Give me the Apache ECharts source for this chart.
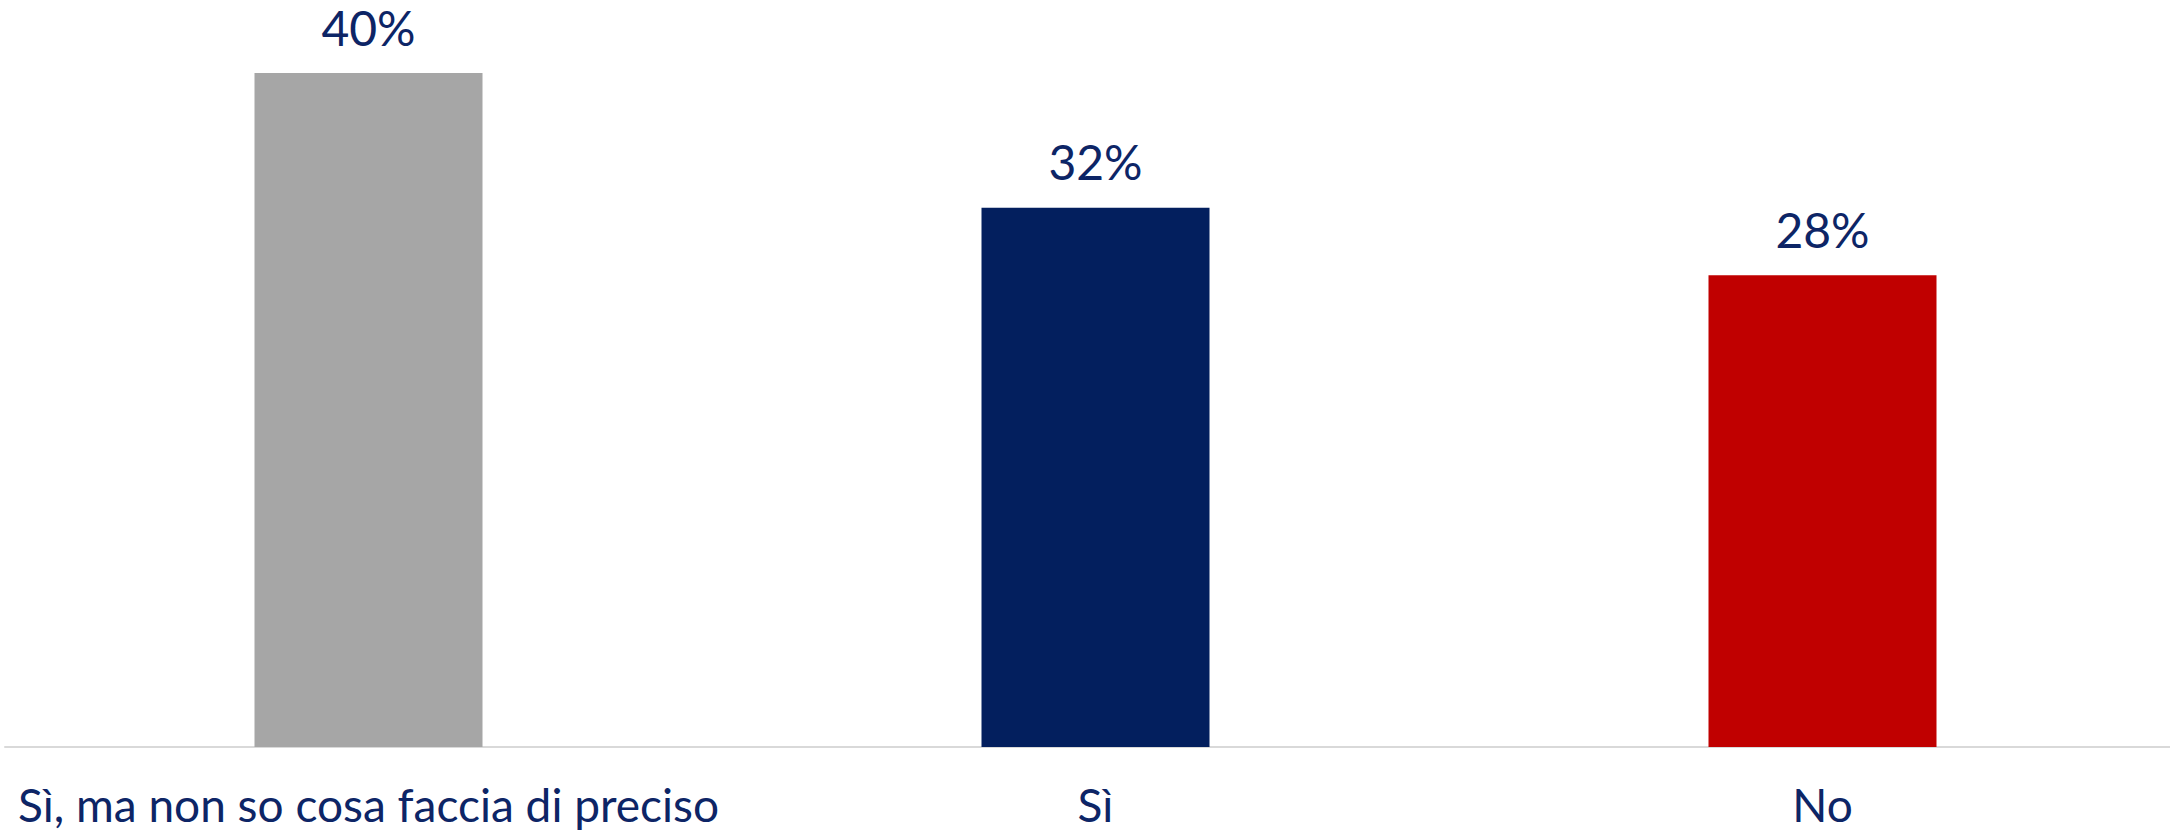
<!DOCTYPE html>
<html>
<head>
<meta charset="utf-8">
<script src="https://cdn.jsdelivr.net/npm/echarts@6/dist/echarts.min.js"></script>
<style>
  html, body { margin: 0; padding: 0; background: #ffffff; overflow: hidden; }
  /* plot area continues a little past the right edge of the window */
  #chart { width: 2186px; height: 836px; }
</style>
</head>
<body>
<div id="chart"></div>
<script>
// Survey answers and their shares (%)
const categories = ['Sì, ma non so cosa faccia di preciso', 'Sì', 'No'];
const values = [40, 32, 28];
const barColors = ['#a6a6a6', '#031f5e', '#c00000'];

const textColor = '#0d2566';
const fontFamily = 'Lato, sans-serif';

const chart = echarts.init(document.getElementById('chart'), null, { renderer: 'svg' });

chart.setOption({
  animation: false,
  backgroundColor: '#ffffff',
  grid: { left: 5, right: 0, top: 73, bottom: 89, containLabel: false },
  xAxis: {
    type: 'category',
    data: categories,
    axisLine: { show: true, lineStyle: { color: '#d9d9d9', width: 2 } },
    axisTick: { show: false },
    axisLabel: {
      color: textColor,
      fontFamily: fontFamily,
      fontSize: 46,
      margin: 34,
      interval: 0
    }
  },
  yAxis: {
    type: 'value',
    min: 0,
    max: 40,
    show: false,
    splitLine: { show: false }
  },
  series: [{
    type: 'bar',
    barWidth: 228,
    data: values.map((v, i) => ({ value: v, itemStyle: { color: barColors[i] } })),
    label: {
      show: true,
      position: 'top',
      distance: 22,
      formatter: '{c}%',
      color: textColor,
      fontFamily: fontFamily,
      fontSize: 48
    }
  }]
});
</script>
</body>
</html>
